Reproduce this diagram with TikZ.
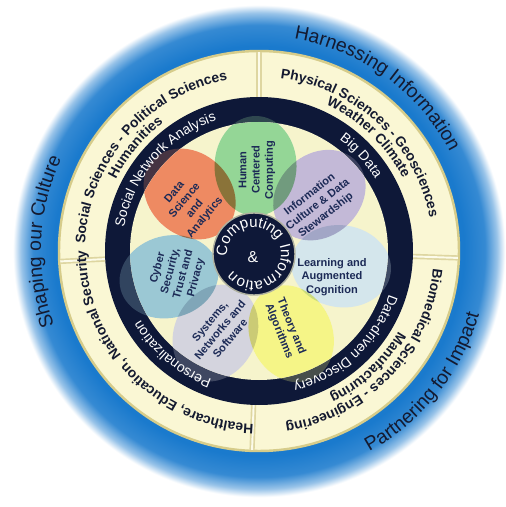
\documentclass[tikz,border=0pt]{standalone}
\usepackage{fontspec}
\setmainfont{Liberation Sans}
\usetikzlibrary{decorations.text,positioning}

\definecolor{ringnavy}{RGB}{14,24,56}
\definecolor{ringcream}{RGB}{250,247,212}
\definecolor{discream}{RGB}{246,244,204}
\definecolor{ringkhaki}{RGB}{214,204,138}
\definecolor{glowblue}{RGB}{26,122,205}
\definecolor{inkdark}{RGB}{20,26,48}
\definecolor{inkpetal}{RGB}{28,42,86}
\definecolor{petgreen}{RGB}{148,214,150}
\definecolor{petorange}{RGB}{238,138,98}
\definecolor{petlilac}{RGB}{195,185,215}
\definecolor{petblue}{RGB}{212,230,236}
\definecolor{petyellow}{RGB}{245,245,135}
\definecolor{petgray}{RGB}{212,212,222}
\definecolor{petteal}{RGB}{155,200,212}

\pgfdeclareradialshading{glow}{\pgfpoint{0bp}{0bp}}{%
  color(0bp)=(glowblue); color(20.5bp)=(glowblue); color(22.6bp)=(glowblue!88!white);
  color(23.8bp)=(glowblue!45!white); color(24.6bp)=(white); color(50bp)=(white)}

% fonts for the rings
\newcommand{\bluefont}{\fontsize{11}{13}\selectfont\color{inkdark}}
\newcommand{\creamfont}{\bfseries\fontsize{7.9}{9}\selectfont\color{inkdark}}
\newcommand{\darkfont}{\fontsize{7.9}{9}\selectfont\color{white}}
\newcommand{\hubfont}{\fontsize{8.6}{10}\selectfont\color{white}}

% text on an arc round the current origin
\newcommand{\ringlabel}[5]{%
  \path[decorate, decoration={text along path, text align=center, text={|#4|#5}}]
    (#2:#1) arc[start angle=#2, end angle=#3, radius=#1];}

% the seven petals round (fc)
\newcommand{\petalloop}[1]{%
  \foreach \pa/\pc in {89/petgreen,137/petorange,195/petteal,244/petgray,
                       295/petyellow,352/petblue,42/petlilac}
    {\fill[#1, shift={(fc)}, rotate=\pa] (88,0) ellipse[x radius=50, y radius=41];}}

\begin{document}
\begin{tikzpicture}[
    x=0.02cm, y=0.02cm,
    petaltext/.style={font=\bfseries\fontsize{6.3}{7.5}\selectfont, text=inkpetal,
                      align=center, inner sep=0pt},
    hubamp/.style={font=\fontsize{9}{10}\selectfont, text=white, inner sep=0pt}
  ]
    \useasboundingbox[fill=white] (-259,-256) rectangle (247,251);
    \coordinate (fc) at (-5,-3);

    % blue glow
    \shade[shading=glow] (0,0) circle (250);

    % cream ring with its four dividers
    \filldraw[fill=ringcream, draw=ringkhaki, line width=1.4pt] (0,0) circle (200);
    \foreach \a in {90,-2,-92,183} {
      \draw[ringkhaki!80, line width=3pt] (\a:154) -- (\a:199);
      \draw[ringcream!50!white, line width=1.1pt] (\a:154) -- (\a:199);
    }

    % dark ring
    \fill[ringnavy] (0,0) circle (154);
    \petalloop{\pc, opacity=0.25}

    % inner disc and petals
    \fill[discream] (0,0) circle (129);
    \begin{scope}
      \clip (0,0) circle (129);
      \petalloop{white}
      \begin{scope}[blend mode=multiply]
        \petalloop{\pc}
      \end{scope}
    \end{scope}

    % hub
    \filldraw[fill=ringnavy, draw=discream!70!ringnavy, line width=0.8pt] (fc) circle (41);
    \node[hubamp] (amp) at (-6,-6) {\&};
    \begin{scope}[shift={(fc)}]
      \ringlabel{27}{196}{20}{\hubfont}{Computing}
      \ringlabel{27}{26.5}{-149.5}{\hubfont}{Information}
    \end{scope}

    % petal labels
    \node[petaltext, rotate=90] (hcc) at (-2,81) {Human\\Centered\\Computing};
    \node[petaltext, rotate=50] (dsa) at (-69,46) {Data\\Science\\and\\Analytics};
    \node[petaltext, rotate=38] (icds) at (59,46) {Information\\Culture \& Data\\Stewardship};
    \node[petaltext] (lac) at (73,-26) {Learning and\\Augmented\\Cognition};
    \node[petaltext, rotate=-68] (tha) at (26,-78) {Theory and\\Algorithms};
    \node[petaltext, rotate=50] (sns) at (-39,-79) {Systems,\\Networks and\\Software};
    \node[petaltext, rotate=75] (cstp) at (-82,-22) {Cyber\\Security,\\Trust and\\Privacy};

    % dark ring labels
    \ringlabel{137}{189}{89}{\darkfont}{Social Network Analysis}
    \ringlabel{137}{93}{-7}{\darkfont}{Big Data}
    \ringlabel{137}{3}{-97}{\darkfont}{Data-driven Discovery}
    \ringlabel{137}{280}{180}{\darkfont}{Personalization}

    % cream ring labels
    \ringlabel{174}{112}{-18}{\creamfont}{Physical Sciences - Geosciences}
    \ringlabel{161}{111}{-19}{\creamfont}{Weather Climate}
    \ringlabel{174}{204}{74}{\creamfont}{Social Sciences - Political Sciences}
    \ringlabel{160}{205}{75}{\creamfont}{Humanities}
    \ringlabel{173}{289}{159}{\creamfont}{Healthcare, Education, National Security}
    \ringlabel{175}{21.4}{-108.6}{\creamfont}{Biomedical Sciences - Engineering}
    \ringlabel{161}{18}{-112}{\creamfont}{Manufacturing}

    % blue ring labels
    \ringlabel{215}{114}{-6}{\bluefont}{Harnessing Information}
    \ringlabel{218}{237.5}{117.5}{\bluefont}{Shaping our Culture}
    \ringlabel{229}{-98.6}{21.4}{\bluefont}{Partnering for Impact}
  \end{tikzpicture}
\end{document}
